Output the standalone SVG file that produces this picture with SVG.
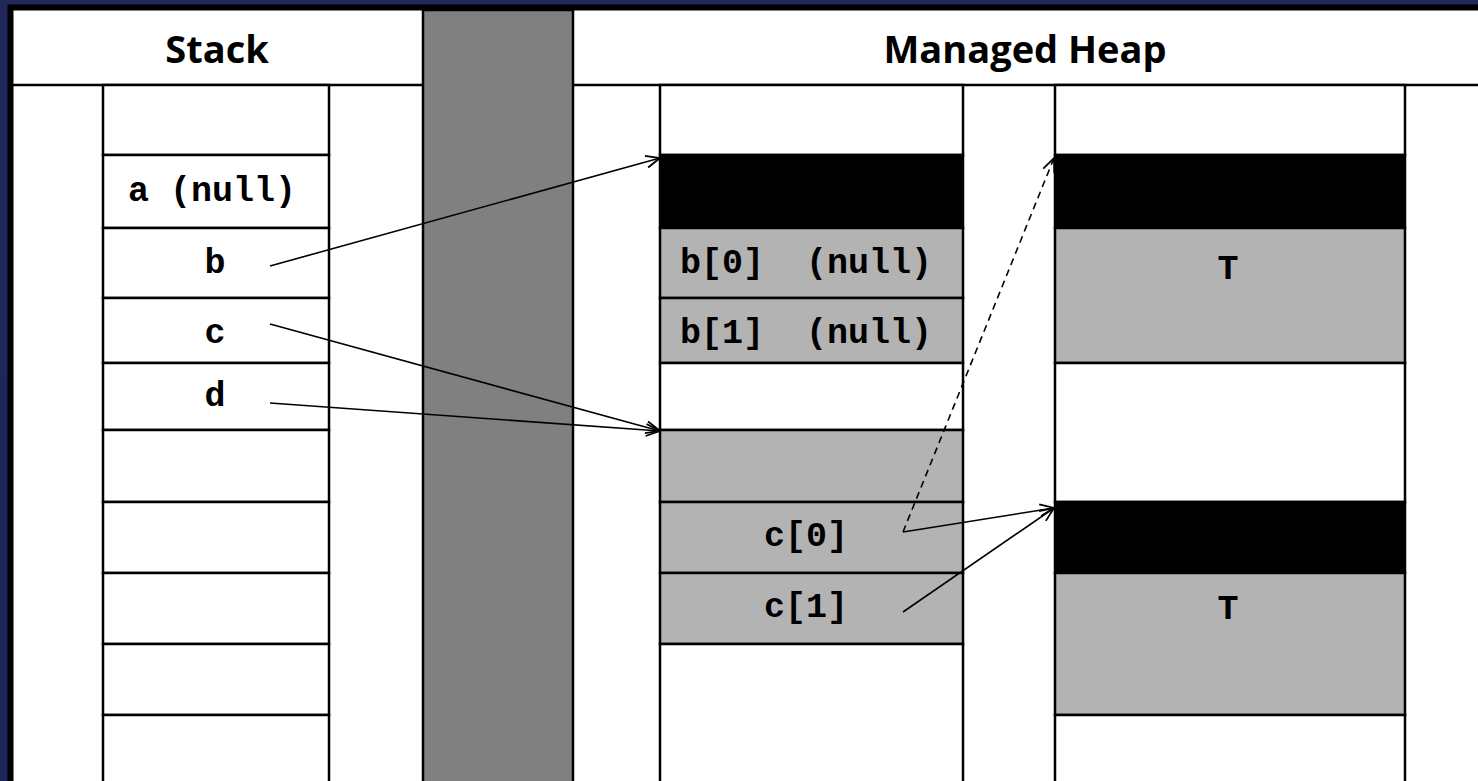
<svg xmlns="http://www.w3.org/2000/svg" width="1478" height="781" viewBox="0 0 1478 781">
<style>
.grid{stroke:#000;stroke-width:2.5;fill:none}
.cw{fill:#fff;stroke:#000;stroke-width:2.5}
.cg{fill:#b3b3b3;stroke:#000;stroke-width:2.5}
.cb{fill:#000;stroke:#000;stroke-width:2.5}
.hdr{font-family:"Open Sans","Liberation Sans",sans-serif;font-weight:bold;font-size:38px;fill:#000;text-anchor:middle}
.mono{font-family:"Liberation Mono","Courier New",monospace;font-weight:bold;font-size:35px;fill:#000;text-anchor:middle}
.arr{stroke:#000;stroke-width:1.6;fill:none;marker-end:url(#ah)}
.dash{stroke-dasharray:7,5}
</style>
<defs>
<marker id="ah" markerUnits="userSpaceOnUse" markerWidth="16" markerHeight="14" viewBox="0 0 16 14" refX="15" refY="7" orient="auto">
<path d="M1,1 L15,7 L1,13" fill="none" stroke="#000" stroke-width="1.8"/>
</marker>
<linearGradient id="bg" x1="0" y1="0" x2="0" y2="1">
<stop offset="0" stop-color="#20275a"/>
<stop offset="1" stop-color="#1d2458"/>
</linearGradient>
</defs>
<rect x="0" y="0" width="1478" height="781" fill="url(#bg)"/>
<rect x="10.5" y="7.5" width="1480" height="800" fill="#fff" stroke="#000" stroke-width="6"/>
<g id="divider">
<rect x="423" y="10" width="150" height="775" fill="#808080" stroke="#000" stroke-width="2.5"/>
</g>
<g id="headers">
<line class="grid" x1="13" y1="85" x2="423" y2="85"/>
<line class="grid" x1="573" y1="85" x2="1478" y2="85"/>
<text class="hdr" x="217" y="63">Stack</text>
<text class="hdr" x="1025" y="63">Managed Heap</text>
</g>
<g id="stack">
<rect class="cw" x="103" y="85" width="226" height="70"/>
<rect class="cw" x="103" y="155" width="226" height="73"/>
<rect class="cw" x="103" y="228" width="226" height="70"/>
<rect class="cw" x="103" y="298" width="226" height="65"/>
<rect class="cw" x="103" y="363" width="226" height="67"/>
<rect class="cw" x="103" y="430" width="226" height="72"/>
<rect class="cw" x="103" y="502" width="226" height="71"/>
<rect class="cw" x="103" y="573" width="226" height="71"/>
<rect class="cw" x="103" y="644" width="226" height="71"/>
<rect class="cw" x="103" y="715" width="226" height="80"/>
<text class="mono" x="212" y="201">a (null)</text>
<text class="mono" x="215" y="273">b</text>
<text class="mono" x="215" y="343">c</text>
<text class="mono" x="215" y="406">d</text>
</g>
<g id="heap1">
<rect class="cw" x="660" y="85" width="303" height="70"/>
<rect class="cb" x="660" y="155" width="303" height="73"/>
<rect class="cg" x="660" y="228" width="303" height="70"/>
<rect class="cg" x="660" y="298" width="303" height="65"/>
<rect class="cw" x="660" y="363" width="303" height="67"/>
<rect class="cg" x="660" y="430" width="303" height="72"/>
<rect class="cg" x="660" y="502" width="303" height="71"/>
<rect class="cg" x="660" y="573" width="303" height="71"/>
<rect class="cw" x="660" y="644" width="303" height="150"/>
<text class="mono" x="806" y="273" xml:space="preserve">b[0]  (null)</text>
<text class="mono" x="806" y="343" xml:space="preserve">b[1]  (null)</text>
<text class="mono" x="806" y="546">c[0]</text>
<text class="mono" x="806" y="617">c[1]</text>
</g>
<g id="heap2">
<rect class="cw" x="1055" y="85" width="350" height="70"/>
<rect class="cb" x="1055" y="155" width="350" height="73"/>
<rect class="cg" x="1055" y="228" width="350" height="135"/>
<rect class="cw" x="1055" y="363" width="350" height="139"/>
<rect class="cb" x="1055" y="502" width="350" height="71"/>
<rect class="cg" x="1055" y="573" width="350" height="142"/>
<rect class="cw" x="1055" y="715" width="350" height="80"/>
<text class="mono" x="1228" y="279">T</text>
<text class="mono" x="1228" y="619">T</text>
</g>
<g id="connectors">
<line class="arr" x1="270" y1="266" x2="660" y2="158"/>
<line class="arr" x1="270" y1="324" x2="660" y2="431"/>
<line class="arr" x1="270" y1="403" x2="660" y2="431"/>
<line class="arr dash" x1="903" y1="532" x2="1054" y2="158"/>
<line class="arr" x1="903" y1="532" x2="1054" y2="508"/>
<line class="arr" x1="903" y1="612" x2="1054" y2="508"/>
</g>
</svg>
